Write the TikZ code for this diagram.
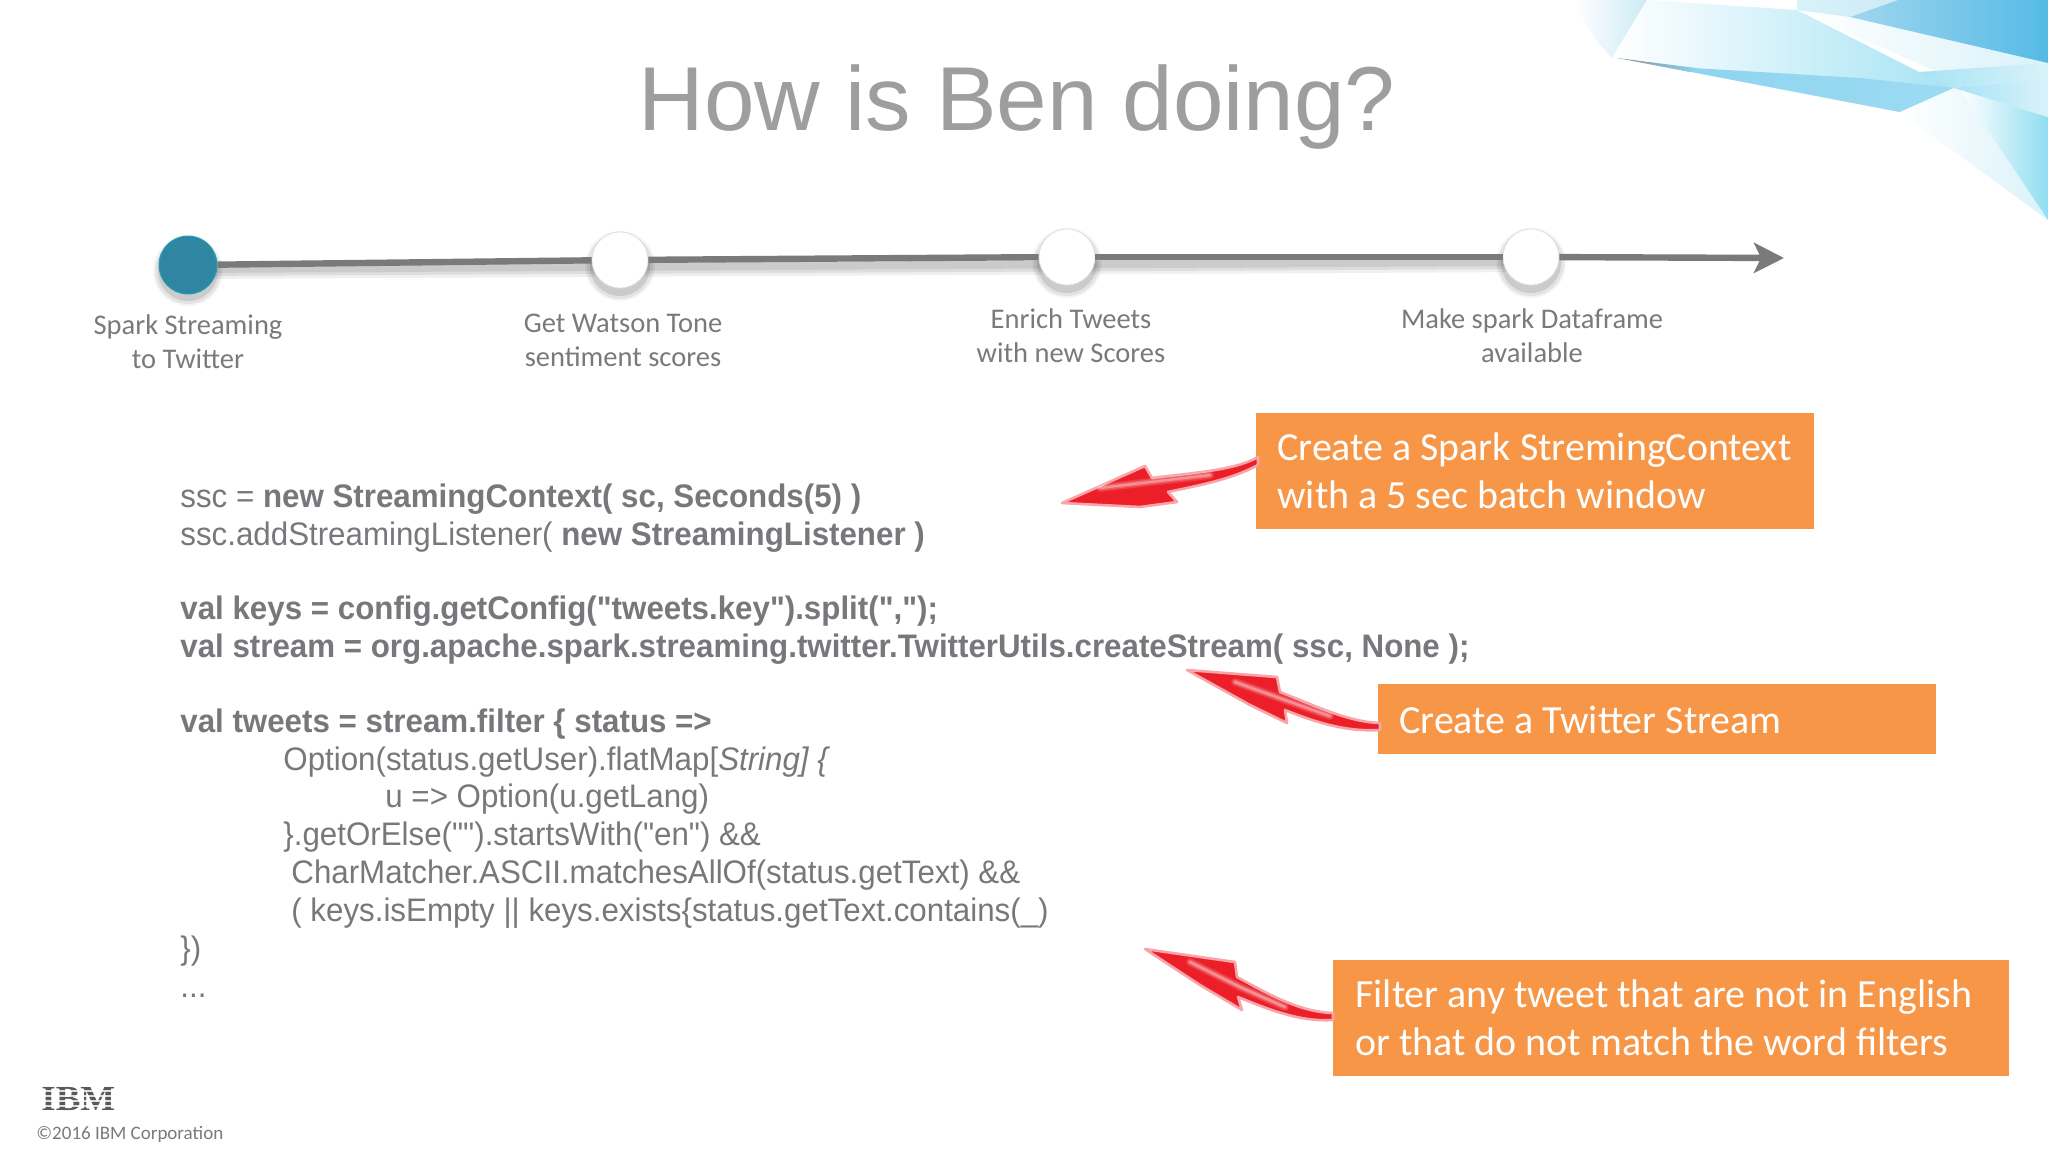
\documentclass[tikz,border=0pt]{standalone}
\usepackage{fontspec}
\setmainfont{Liberation Sans}
\newfontfamily\codefont{Liberation Sans}[FakeStretch=0.96]
\newfontfamily\cali{Carlito}
\newfontfamily\serifb{Liberation Serif}[BoldFont={Liberation Serif Bold}]
\usetikzlibrary{arrows.meta}
\definecolor{txtgray}{HTML}{78787C}
\definecolor{lblgray}{HTML}{7A7A7A}
\definecolor{titlegray}{HTML}{9E9E9E}
\definecolor{boxorange}{HTML}{F79646}
\definecolor{teal1}{HTML}{2F86A2}
\definecolor{arrowred}{HTML}{EC1F28}
\definecolor{skyA}{HTML}{CDEAF6}
\definecolor{skyB}{HTML}{A6E3F4}
\definecolor{skyC}{HTML}{8CD4F0}
\definecolor{skyD}{HTML}{A0D6EE}
\definecolor{skyE}{HTML}{55BAE6}
\definecolor{skyF}{HTML}{D9F2FA}
\definecolor{skyG}{HTML}{90DDF1}
\tikzset{
  x=0.5pt,y=-0.5pt,
  codeline/.style={anchor=base west,inner sep=0pt,text=txtgray,font=\codefont\fontsize{16.3}{18}\selectfont},
  steplabel/.style={align=center,text=lblgray,inner sep=0pt,font=\cali\fontsize{14.25}{17}\selectfont},
  calltext/.style={anchor=west,align=left,text=white,inner sep=0pt,font=\cali\fontsize{19.95}{23.9}\selectfont},
  whitedot/.style={circle,fill=white,minimum size=28pt,inner sep=0pt,draw=black!12,line width=0.4pt},
  tealdot/.style={circle,fill=teal1,minimum size=29pt,inner sep=0pt,draw=teal1!80!cyan,line width=0.5pt},
  redarrow/.style={fill=arrowred,draw=arrowred!40,line width=1.3pt,line join=round},
  gleam/.style={white,line cap=round},
}
\newcommand{\dotshadow}[2]{%
  \foreach \r/\o in {35/.04,33/.07,30/.10}{\fill[black,opacity=\o] (#1,#2+6) circle[radius=\r*0.5pt];}}
\begin{document}
\begin{tikzpicture}
\useasboundingbox (0,0) rectangle (2048,1152);
\fill[white] (0,0) rectangle (2048,1152);
% corner facets
\shade[left color=white,right color=skyA] (1573,0) -- (1647,0) -- (1612,58) .. controls (1595,40) .. (1573,0) -- cycle;
\shade[left color=white,right color=skyB] (1647,0) -- (1797,10) -- (1919,72) -- (1954,88) -- (1900,112) -- (1617,58) -- (1612,58) -- cycle;
\shade[left color=white,right color=skyF] (1797,10) -- (1850,17) -- (2048,63) -- (1937,72) -- cycle;
\shade[left color=skyF,right color=skyA] (1797,0) -- (1898,0) -- (1850,17) -- (1797,10) -- cycle;
\shade[left color=skyD,right color=skyE] (1850,17) -- (1898,0) -- (2048,0) -- (2048,63) -- cycle;
\shade[left color=skyB,right color=skyF] (1919,72) -- (2048,63) -- (2048,78) -- (1954,88) -- cycle;
\shade[left color=skyC,right color=skyC!85!white] (1660,66) -- (1860,78) -- (1954,88) -- (1900,112) -- cycle;
\shade[left color=black!45,right color=skyC] (1617,58) -- (1696,68) -- (1690,72) -- cycle;
\shade[left color=white,right color=skyF] (1900,112) -- (1954,88) -- (1961,90) -- (2048,220) -- cycle;
\shade[left color=white,right color=skyG] (1961,90) -- (2048,117) -- (2048,220) -- cycle;
\shade[left color=skyB,right color=skyF] (1954,88) -- (2048,78) -- (2048,117) -- cycle;
% title
\node[anchor=base,inner sep=0pt,text=titlegray,font=\fontsize{45.4}{50}\selectfont] (title) at (1017,130) {How is Ben doing?};
% timeline
\coordinate (lineend) at (1784,258);
\foreach \o/\d in {.08/8,.08/11,.06/14}{\fill[black,opacity=\o] (188,265) -- (1531,258) -- (1531,258+\d) -- (188,265+\d) -- cycle;}
\dotshadow{188}{265}\dotshadow{620}{260}\dotshadow{1067}{257}\dotshadow{1531}{257}
\node[tealdot] (n1) at (188,265) {};
\node[whitedot] (n2) at (620,260) {};
\node[whitedot] (n3) at (1067,257) {};
\node[whitedot] (n4) at (1531,257) {};
\draw[line width=3.2pt,draw=black!52] (n1) -- (n2);
\draw[line width=3.2pt,draw=black!52] (n2) -- (n3);
\draw[line width=3.2pt,draw=black!52] (n3) -- (n4);
\draw[line width=3.2pt,draw=black!52,-{Stealth[length=15pt,width=15pt,inset=3.5pt]}] (n4) -- (lineend);
\node[steplabel] (l1) at (188,342) {Spark Streaming\\to Twitter};
\node[steplabel] (l2) at (623,340) {Get Watson Tone\\sentiment scores};
\node[steplabel] (l3) at (1071,336) {Enrich Tweets\\with new Scores};
\node[steplabel] (l4) at (1532,336) {Make spark Dataframe\\available};
% code
\node[codeline] (c1) at (180,507) {ssc = \textbf{new StreamingContext( sc, Seconds(5) )}};
\node[codeline] (c2) at (180,545) {ssc.addStreamingListener( \textbf{new StreamingListener )}};
\node[codeline] (c3) at (180,619) {\textbf{val keys = config.getConfig("tweets.key").split(",");}};
\node[codeline] (c4) at (180,657) {\textbf{val stream = org.apache.spark.streaming.twitter.TwitterUtils.createStream( ssc, None );}};
\node[codeline] (c5) at (180,732) {\textbf{val tweets = stream.filter \{ status =>}};
\node[codeline] (c6) at (283,770) {Option(status.getUser).flatMap[\textit{String] \{}};
\node[codeline] (c7) at (385,807) {u => Option(u.getLang)};
\node[codeline] (c8) at (283,845) {\}.getOrElse("").startsWith("en") \&\&};
\node[codeline] (c9) at (291,883) {CharMatcher.ASCII.matchesAllOf(status.getText) \&\&};
\node[codeline] (c10) at (291,921) {( keys.isEmpty || keys.exists\{status.getText.contains(\_)};
\node[codeline] (c11) at (180,959) {\})};
\node[codeline] (c12) at (180,997) {...};
% callouts
\fill[boxorange] (1256,413) rectangle (1814,529);
\node[calltext] (t1) at (1277,471) {Create a Spark StremingContext\\with a 5 sec batch window};
\fill[boxorange] (1378,684) rectangle (1936,754);
\node[calltext] (t2) at (1399,720) {Create a Twitter Stream};
\fill[boxorange] (1333,960) rectangle (2009,1076);
\node[calltext] (t3) at (1355,1018) {Filter any tweet that are not in English\\or that do not match the word filters};
% red arrows
\path[redarrow] (1062,503) -- (1145,466) -- (1152,478) .. controls (1200,472) and (1235,470) .. (1258,457) -- (1258,465) .. controls (1230,480) and (1200,485) .. (1168,492) -- (1177,502) -- (1140,507) -- cycle;
\foreach \w/\o in {4/.12,2.5/.2,1.2/.3}{\draw[gleam,opacity=\o,line width=\w pt] (1100,488) -- (1150,482) -- (1210,475);}
\path[redarrow] (1187,670) -- (1277,677) -- (1280,692) .. controls (1320,708) and (1350,722) .. (1380,723) -- (1380,730) .. controls (1345,732) and (1315,722) .. (1285,710) -- (1287,723) -- (1250,705) -- cycle;
\foreach \w/\o in {4/.12,2.5/.2,1.2/.3}{\draw[gleam,opacity=\o,line width=\w pt] (1235,682) -- (1285,700) -- (1330,716);}
\path[redarrow] (1145,949) -- (1235,962) -- (1237,977) .. controls (1270,995) and (1300,1012) .. (1333,1013) -- (1333,1020) .. controls (1300,1022) and (1270,1010) .. (1238,997) -- (1242,1010) -- (1200,985) -- cycle;
\foreach \w/\o in {4/.12,2.5/.2,1.2/.3}{\draw[gleam,opacity=\o,line width=\w pt] (1190,962) -- (1240,987) -- (1285,1007);}
% footer
\node[anchor=west,inner sep=0pt,text=black!65,font=\serifb\bfseries\fontsize{17.6}{17}\selectfont,xscale=1.05] (ibm) at (41,1099) {IBM};
\foreach \yy in {1091,1096,1101,1106}{\draw[white,opacity=.8,line width=.8pt] (38,\yy) -- (120,\yy);}
\node[anchor=west,inner sep=0pt,text=lblgray,font=\cali\fontsize{9.5}{12}\selectfont] (copy) at (36,1134) {©2016 IBM Corporation};
\end{tikzpicture}
\end{document}
